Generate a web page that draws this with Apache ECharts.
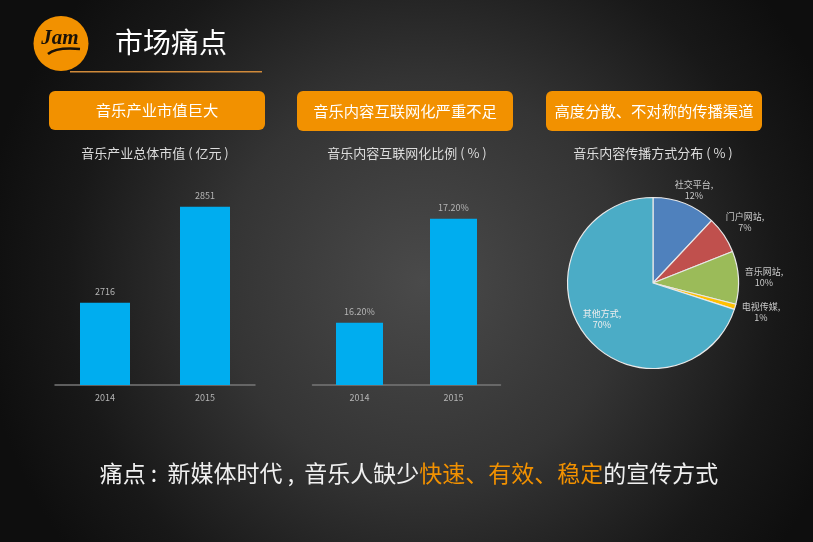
<!DOCTYPE html>
<html>
<head>
<meta charset="utf-8">
<style>html,body{margin:0;padding:0;background:#111}#main{width:813px;height:542px}</style>
<script src="https://cdn.jsdelivr.net/npm/echarts@6/dist/echarts.min.js"></script>
</head>
<body>
<div id="main"></div>
<script>
const years = ['2014', '2015'];
const marketValues = [2716, 2851];
const onlineRates = [16.2, 17.2];
const channelNames = ['社交平台', '门户网站', '音乐网站', '电视传媒', '其他方式'];
const channelValues = [12, 7, 10, 1, 70];
const channelColors = ['#4f81bd', '#c0504d', '#9bbb59', '#ffc000', '#4bacc6'];
const headings = ['音乐产业市值巨大', '音乐内容互联网化严重不足', '高度分散、不对称的传播渠道'];
const chartTitles = ['音乐产业总体市值 ( 亿元 )', '音乐内容互联网化比例 ( % )', '音乐内容传播方式分布 ( % )'];

const FONT = '"Noto Sans CJK SC", "Noto Sans", sans-serif';
const ORANGE = '#f29100';
const myChart = echarts.init(document.getElementById('main'));

const headingBoxes = [[49, 91, 216, 39], [297, 91, 216, 40], [546, 91, 216, 40]];
// label centres next to the pie, same order as channelNames
const labelSpots = [[694, 190], [745, 222], [764, 277], [761, 312], [602, 319]];

function barAxis(idx) {
    return {
        type: 'category',
        gridIndex: idx,
        data: years,
        axisTick: { show: false },
        axisLine: { lineStyle: { color: '#777', width: 1.5 } },
        axisLabel: { color: '#b5b5b5', fontSize: 9, margin: 8, fontFamily: FONT }
    };
}

function barSeries(idx, values, width, fmt) {
    return {
        type: 'bar',
        xAxisIndex: idx,
        yAxisIndex: idx,
        data: values,
        barWidth: width,
        itemStyle: { color: '#00adef' },
        label: { show: true, position: 'top', distance: 7, color: '#b5b5b5', fontSize: 9, fontFamily: FONT, formatter: fmt },
        silent: true
    };
}

function chartTitle(text, x) {
    return {
        text: text, left: x, top: 147, textAlign: 'center', padding: 0,
        textStyle: { color: '#ddd', fontSize: 13, fontWeight: 'normal', fontFamily: FONT }
    };
}

const option = {
    animation: false,
    backgroundColor: {
        type: 'radial', x: 0.52, y: 0.52, r: 0.82,
        colorStops: [
            { offset: 0, color: '#4a4a4a' },
            { offset: 0.45, color: '#343434' },
            { offset: 0.8, color: '#181818' },
            { offset: 1, color: '#0e0e0e' }
        ]
    },
    title: [
        { text: '市场痛点', left: 115, top: 28, padding: 0, textStyle: { color: '#fff', fontSize: 28, fontWeight: 'normal', fontFamily: FONT } },
        chartTitle(chartTitles[0], 155),
        chartTitle(chartTitles[1], 407),
        chartTitle(chartTitles[2], 653),
        {
            text: '{w|痛点 :  新媒体时代 ,  音乐人缺少}{o|快速、有效、稳定}{w|的宣传方式}',
            left: 409, top: 462, textAlign: 'center', padding: 0,
            textStyle: {
                fontFamily: FONT,
                fontWeight: 'normal',
                rich: {
                    w: { color: '#f0f0f0', fontSize: 23, fontWeight: 'normal', fontFamily: FONT },
                    o: { color: ORANGE, fontSize: 23, fontWeight: 'normal', fontFamily: FONT }
                }
            }
        }
    ],
    grid: [
        { left: 55, width: 200, top: 172, height: 213 },
        { left: 312.5, width: 188, top: 198, height: 187 }
    ],
    xAxis: [barAxis(0), barAxis(1)],
    yAxis: [
        { type: 'value', gridIndex: 0, min: 2600, max: 2900, show: false },
        { type: 'value', gridIndex: 1, min: 15.6, max: 17.4, show: false }
    ],
    series: [
        barSeries(0, marketValues, 50, '{c}'),
        barSeries(1, onlineRates, 47, p => p.value.toFixed(2) + '%'),
        {
            type: 'pie',
            center: [653, 283],
            radius: [0, 85.5],
            startAngle: 90,
            clockwise: true,
            silent: true,
            itemStyle: { borderColor: '#e8e8e8', borderWidth: 1.2 },
            labelLine: { show: false },
            label: {
                position: 'outside',
                overflow: 'none',
                color: '#c8c8c8',
                fontSize: 9,
                lineHeight: 11,
                align: 'center',
                fontFamily: FONT,
                formatter: '{b},\n{c}%'
            },
            labelLayout: params => ({
                x: labelSpots[params.dataIndex][0],
                y: labelSpots[params.dataIndex][1],
                align: 'center',
                verticalAlign: 'middle',
                hideOverlap: false
            }),
            data: channelNames.map((name, i) => {
                const item = { name: name, value: channelValues[i], itemStyle: { color: channelColors[i] } };
                if (i === 4) item.label = { color: '#eee' };
                return item;
            })
        }
    ],
    graphic: [
        { type: 'rect', shape: { x: 70, y: 71, width: 192, height: 1.4 }, style: { fill: '#d08a3a' }, z: 1 },
        { type: 'circle', shape: { cx: 61, cy: 43.5, r: 27.5 }, style: { fill: ORANGE }, z: 2 },
        { type: 'text', x: 60, y: 39, z: 3, style: { text: 'Jam', fill: '#1a1208', font: 'italic bold 21px "Liberation Serif"', align: 'center', verticalAlign: 'middle' } },
        { type: 'bezierCurve', z: 3, shape: { x1: 48, y1: 54, cpx1: 56, cpy1: 47, x2: 80, y2: 49 }, style: { stroke: '#1a1208', lineWidth: 2.5, fill: 'none' } }
    ].concat(headingBoxes.map(b => ({
        type: 'rect',
        shape: { x: b[0], y: b[1], width: b[2], height: b[3], r: 6 },
        style: { fill: ORANGE }
    }))).concat(headingBoxes.map((b, i) => ({
        type: 'text',
        x: b[0] + b[2] / 2,
        y: b[1] + b[3] / 2,
        style: { text: headings[i], fill: '#fff', font: '15.3px ' + FONT, align: 'center', verticalAlign: 'middle' }
    })))
};

myChart.setOption(option);
</script>
</body>
</html>
